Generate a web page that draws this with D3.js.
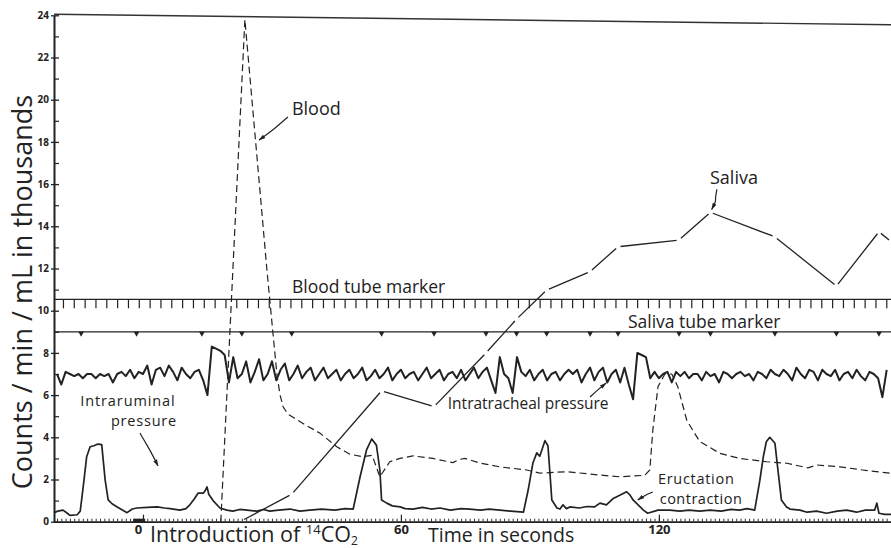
<!DOCTYPE html>
<html>
<head>
<meta charset="utf-8">
<script src="https://cdn.jsdelivr.net/npm/d3@7"></script>
<style>
  html, body { margin: 0; padding: 0; background: #fff; }
  svg { display: block; }
  text { font-family: "Open Sans", "Noto Sans", sans-serif; fill: #222; }
</style>
</head>
<body>
<svg id="chart" width="891" height="548"></svg>
<script>
// ---- Axis ticks -------------------------------------------------------
const yTickValues = [0, 2, 4, 6, 8, 10, 12, 14, 16, 18, 20, 22, 24];
const yTickLabels = ["0", "2", "4", "6", "8", "10", "12", "14", "16", "18", "20", "22", "24"];
const yMinorTicks = [1, 3, 5, 7, 9, 11, 13, 15, 17, 19, 21, 23];
const xTickValues = [0, 60, 120];
const xTickLabels = ["0", "60", "120"];

// ---- Blood 14C activity (thousand counts/min/mL), time in s ------------
const bloodTime = [18.1, 23.7, 28.8, 30.2, 31.2, 31.9, 32.6, 33.7, 34.9, 37.7, 41.2, 45.1, 48.1,
  51.2, 53.3, 55.1, 57.4, 59.8, 62.8, 67.4, 72.1, 73.5, 74.9, 78.4, 83.0, 89.3, 92.3, 98.6,
  106.3, 110.9, 116.7, 117.9, 118.6, 119.8, 121.4, 123.0, 124.4, 126.5, 129.5, 134.2, 138.8,
  145.1, 149.8, 154.7, 156.7, 162.1, 167.4, 174.0];
const bloodCounts = [0, 23.8, 12.0, 9.0, 6.9, 6.0, 5.45, 5.1, 4.95, 4.6, 4.19, 3.55, 3.2,
  3.08, 3.15, 2.13, 2.84, 3.0, 3.12, 3.0, 2.8, 2.95, 3.0, 2.78, 2.6, 2.45, 2.3, 2.37,
  2.21, 2.13, 2.2, 2.45, 4.35, 6.4, 7.0, 7.0, 6.4, 4.8, 3.8, 3.24, 3.0,
  2.84, 2.77, 2.55, 2.69, 2.6, 2.45, 2.29];

// ---- Saliva 14C activity, one value per saliva tube -------------------
const salivaTime = [23.0, 34.6, 55.5, 67.7, 79.8, 86.9, 93.9, 104.0, 110.5, 124.7, 132.0, 147.0, 161.3, 171.2, 174.0];
const salivaCounts = [0.05, 1.3, 6.2, 5.45, 8.0, 9.6, 10.98, 11.85, 13.03, 13.35, 14.66, 13.5, 11.17, 13.74, 13.27];

// ---- Tube change markers ---------------------------------------------
const salivaTubeTimes = [-14.4, -1.5, 13.7, 23.0, 34.6, 55.5, 67.7, 79.8, 86.9, 93.9, 104.0, 110.5, 124.7, 132.0, 147.0, 161.3, 171.2];
const bloodTubeStart = -18.5;
const bloodTubeStep = 2.52;

// ---- Intratracheal pressure, one reading per second from t = -20 s ------
const trachealStart = -20;
const trachealPressure = [
  7.0, 6.5, 7.1, 7.0, 6.9, 7.0, 6.8, 7.0, 7.0, 6.8,
  7.0, 6.9, 7.0, 6.6, 7.0, 7.1, 6.9, 7.2, 6.8, 7.1,
  7.0, 7.4, 6.5, 7.2, 7.3, 6.9, 7.4, 7.1, 6.7, 7.3,
  7.0, 6.8, 7.1, 7.2, 6.7, 6.0, 8.3, 8.2, 8.1, 7.9,
  6.6, 7.8, 6.8, 7.0, 7.6, 6.6, 7.1, 7.7, 6.7, 7.0,
  7.6, 6.7, 7.2, 7.5, 6.7, 7.0, 7.4, 6.8, 7.1, 7.3,
  6.7, 7.0, 7.3, 6.8, 7.0, 7.2, 6.7, 7.0, 7.2, 6.8,
  7.0, 7.3, 6.7, 6.9, 7.2, 6.8, 7.0, 7.3, 6.7, 7.0,
  7.2, 6.8, 7.0, 7.1, 6.7, 7.0, 7.3, 6.8, 7.0, 7.2,
  6.7, 7.0, 7.1, 6.8, 7.2, 6.7, 7.0, 7.3, 6.8, 7.1,
  7.3, 6.7, 6.1, 7.8, 7.0, 6.8, 6.1, 7.8, 7.1, 6.9,
  7.2, 6.7, 7.0, 7.2, 6.7, 7.0, 7.1, 6.7, 7.0, 7.2,
  7.0, 7.2, 6.6, 7.0, 7.3, 6.7, 7.1, 7.3, 6.6,
  7.0, 7.2, 6.6, 7.3, 6.5, 5.8, 8.0, 7.9, 7.8, 6.8,
  7.1, 6.8, 7.0, 7.1, 6.6, 7.1, 6.9, 7.1, 6.8, 7.0,
  7.0, 6.7, 7.1, 6.9, 7.0, 6.6, 7.1, 7.0, 6.8, 7.0,
  7.1, 6.9, 7.0, 6.7, 7.1, 7.0, 6.8, 7.2, 7.0, 6.9,
  7.2, 7.0, 6.7, 7.3, 7.0, 6.8, 7.2, 7.1, 6.7, 7.2,
  7.0, 6.9, 7.2, 6.7, 7.0, 7.1, 6.8, 7.2, 6.9, 6.7,
  7.1, 7.0, 6.8, 5.9, 7.2
];

// ---- Intraruminal pressure ------------------------------------------
const ruminalTime = [-20.7, -19.8, -18.6, -17.6, -17.0, -15.3, -14.6, -13.9, -13.1, -12.3, -11.4, -10.5,
  -9.6, -8.8, -8.1, -7.2, -6.0, -4.8, -3.7, -2.5, -1.4, 1.0, 3.3, 5.0, 6.3, 8.6, 10.0, 10.9, 12.0,
  12.8, 14.0, 14.4, 14.9, 15.3, 16.3, 17.9, 19.5, 20.9, 22.5, 24.2, 26.5, 28.0, 29.5, 31.5, 34.2,
  36.5, 38.8, 41.5, 44.7, 47.0, 48.9, 50.5, 52.0, 53.2, 54.3, 55.1, 55.5, 56.7, 58.0, 59.8, 61.0,
  62.8, 65.0, 67.0, 69.1, 71.5, 74.0, 76.0, 78.5, 80.5, 83.0, 85.5, 88.5, 89.6, 90.7, 91.6, 92.3,
  93.5, 94.2, 94.7, 95.1, 96.3, 97.0, 97.7, 98.5, 99.3, 101.5, 103.3, 105.0, 106.3, 107.8, 109.4,
  110.9, 112.5, 113.3, 114.0, 116.4, 117.4, 119.8, 122.5, 124.9, 127.0, 129.5, 131.9, 134.5,
  136.8, 138.8, 140.5, 142.3, 143.5, 144.3, 145.0, 145.8, 147.0, 147.7, 148.5, 149.7, 150.5,
  152.8, 154.5, 156.7, 159.0, 161.5, 163.7, 166.0, 168.0, 170.2, 170.7, 171.2, 172.5, 174.0];
const ruminalPressure = [0.43, 0.5, 0.55, 0.4, 0.3, 0.33, 0.5, 1.66, 3.08, 3.55, 3.6, 3.68,
  3.65, 1.97, 1.03, 0.85, 0.7, 0.55, 0.43, 0.6, 0.65, 0.68, 0.7, 0.65, 0.62, 0.55, 0.62, 0.8, 1.1,
  1.35, 1.35, 1.45, 1.65, 1.3, 1.0, 0.65, 0.55, 0.5, 0.58, 0.55, 0.5, 0.58, 0.5, 0.55, 0.6,
  0.5, 0.55, 0.6, 0.55, 0.62, 0.6, 2.13, 3.4, 3.92, 3.63, 2.45, 1.03, 0.88, 0.75, 0.7, 0.62,
  0.6, 0.68, 0.6, 0.65, 0.55, 0.62, 0.6, 0.55, 0.6, 0.55, 0.5, 0.45, 1.5, 2.78, 3.26, 3.1,
  3.84, 3.6, 2.2, 1.03, 0.65, 0.6, 0.8, 0.62, 0.7, 0.65, 0.72, 0.7, 0.88, 0.8, 1.1,
  1.25, 1.42, 1.26, 1.03, 0.55, 0.4, 0.55, 0.55, 0.5, 0.55, 0.5, 0.55, 0.5,
  0.58, 0.55, 0.62, 0.55, 1.97, 3.08, 3.79, 4.0, 3.72, 2.45, 1.03, 0.7, 0.6,
  0.55, 0.45, 0.5, 0.4, 0.5, 0.55, 0.45, 0.55, 0.55, 0.88, 0.4, 0.35, 0.35];

// ---- Scales ----------------------------------------------------------
const x = d3.scaleLinear().domain([-20.7, 174]).range([54, 891]);
const y = d3.scaleLinear().domain([0, 24]).range([521.7, 15.3]);
const INK = "#222";

const svg = d3.select("#chart");

svg.append("defs").append("marker")
  .attr("id", "head")
  .attr("viewBox", "0 0 10 10")
  .attr("refX", 9).attr("refY", 5)
  .attr("markerWidth", 7).attr("markerHeight", 7)
  .attr("markerUnits", "userSpaceOnUse")
  .attr("orient", "auto")
  .append("path").attr("d", "M0,2 L10,5 L0,8 Z").attr("fill", INK);

// top rule of the recording frame
svg.append("line")
  .attr("x1", x(-20.7)).attr("y1", y(24.05))
  .attr("x2", x(174)).attr("y2", y(23.55))
  .attr("stroke", "#333").attr("stroke-width", 1.4);

// ---- Y axis ----------------------------------------------------------
const gy = svg.append("g")
  .attr("transform", `translate(${x(-20.7)},0)`)
  .call(d3.axisLeft(y).tickValues(yTickValues)
    .tickFormat((d, i) => yTickLabels[i])
    .tickSizeInner(-5).tickSizeOuter(0).tickPadding(5));
gy.select(".domain").attr("stroke", INK).attr("stroke-width", 2);
gy.selectAll(".tick line").attr("stroke", INK).attr("stroke-width", 1.3);
gy.selectAll(".tick").append("line")
  .attr("x1", -3).attr("x2", 0).attr("stroke", INK).attr("stroke-width", 1.3);
gy.selectAll(".tick text")
  .attr("font-family", "DejaVu Sans").attr("font-weight", "bold")
  .attr("font-size", 10).attr("fill", INK);

svg.append("g")
  .attr("transform", `translate(${x(-20.7)},0)`)
  .call(d3.axisLeft(y).tickValues(yMinorTicks).tickSize(-5).tickFormat(""))
  .call(g => g.select(".domain").remove())
  .selectAll(".tick line").attr("stroke", INK).attr("stroke-width", 1.2);

// ---- X axis: one-second time marks, labelled every minute ----------------
const gxMinor = svg.append("g")
  .attr("transform", `translate(0,${y(0)})`)
  .call(d3.axisBottom(x).tickValues(d3.range(-20, 174, 1))
    .tickSizeInner(-3).tickSizeOuter(0).tickFormat(""));
gxMinor.select(".domain").attr("stroke", INK).attr("stroke-width", 1.8);
gxMinor.selectAll(".tick line").attr("stroke", "#333").attr("stroke-width", 1);

const gx = svg.append("g")
  .attr("transform", `translate(0,${y(0)})`)
  .call(d3.axisBottom(x).tickValues(xTickValues)
    .tickFormat((d, i) => xTickLabels[i])
    .tickSizeInner(-7).tickSizeOuter(0).tickPadding(3));
gx.select(".domain").remove();
gx.selectAll(".tick line").attr("stroke", INK).attr("stroke-width", 1.2);
gx.selectAll(".tick text")
  .attr("font-family", "DejaVu Sans").attr("font-weight", "bold")
  .attr("font-size", 13).attr("fill", INK)
  .attr("dx", d => d === 0 ? -5 : 0);

// 14CO2 introduction bar on the time base
svg.append("rect")
  .attr("x", x(-2.3)).attr("width", x(0.5) - x(-2.3))
  .attr("y", y(0) - 3).attr("height", 4)
  .attr("fill", INK);

// ---- Blood tube marker --------------------------------------------------
const bloodTubeTimes = d3.range(bloodTubeStart, 174, bloodTubeStep);
const bloodMarkY = y(10.54);
svg.append("line")
  .attr("x1", x(-20.7)).attr("x2", x(174))
  .attr("y1", bloodMarkY).attr("y2", bloodMarkY)
  .attr("stroke", INK).attr("stroke-width", 1.3);
svg.append("g").selectAll("line").data(bloodTubeTimes).join("line")
  .attr("x1", d => x(d)).attr("x2", d => x(d))
  .attr("y1", bloodMarkY).attr("y2", bloodMarkY + 9)
  .attr("stroke", INK).attr("stroke-width", 1.2);

// ---- Saliva tube marker ------------------------------------------------
const salivaMarkY = y(9.0);
svg.append("line")
  .attr("x1", x(-20.7)).attr("x2", x(174))
  .attr("y1", salivaMarkY).attr("y2", salivaMarkY)
  .attr("stroke", INK).attr("stroke-width", 1.3);
svg.append("g").selectAll("path").data(salivaTubeTimes).join("path")
  .attr("d", d => `M${x(d) - 2.8},${salivaMarkY} L${x(d) + 2.8},${salivaMarkY} L${x(d)},${salivaMarkY + 5} Z`)
  .attr("fill", INK);

// ---- Intraruminal pressure --------------------------------------------
const ruminal = ruminalTime.map((t, i) => [t, ruminalPressure[i]]);
svg.append("path")
  .datum(ruminal)
  .attr("d", d3.line().x(d => x(d[0])).y(d => y(d[1])))
  .attr("fill", "none").attr("stroke", INK)
  .attr("stroke-width", 1.7).attr("stroke-linejoin", "round");

// ---- Intratracheal pressure -------------------------------------------
const tracheal = trachealPressure.map((v, i) => [trachealStart + i, v]);
svg.append("path")
  .datum(tracheal)
  .attr("d", d3.line().x(d => x(d[0])).y(d => y(d[1])))
  .attr("fill", "none").attr("stroke", INK)
  .attr("stroke-width", 2).attr("stroke-linejoin", "round");

// ---- Blood activity (dashed) ------------------------------------------
const blood = bloodTime.map((t, i) => [t, bloodCounts[i]]);
svg.append("path")
  .datum(blood)
  .attr("d", d3.line().x(d => x(d[0])).y(d => y(d[1])))
  .attr("fill", "none").attr("stroke", INK)
  .attr("stroke-width", 1.2).attr("stroke-dasharray", "7,4");

// ---- Saliva activity: one stroke per tube interval, open at the joints ----
const salivaPts = salivaTime.map((t, i) => [x(t), y(salivaCounts[i])]);
const gap = 2.5;
const salivaSegs = d3.pairs(salivaPts).map(([a, b]) => {
  const dx = b[0] - a[0], dy = b[1] - a[1];
  const len = Math.hypot(dx, dy);
  const ux = dx / len, uy = dy / len;
  return [a[0] + ux * gap, a[1] + uy * gap, b[0] - ux * gap, b[1] - uy * gap];
});
svg.append("g").selectAll("line").data(salivaSegs).join("line")
  .attr("x1", d => d[0]).attr("y1", d => d[1])
  .attr("x2", d => d[2]).attr("y2", d => d[3])
  .attr("stroke", INK).attr("stroke-width", 1.3);

// ---- Labels and pointer arrows -----------------------------------------
function label(t, v, str, size, anchor, spacing) {
  return svg.append("text")
    .attr("x", x(t)).attr("y", y(v))
    .attr("font-size", size)
    .attr("letter-spacing", spacing || 0)
    .attr("text-anchor", anchor || "start")
    .text(str);
}
const curvy = d3.line().x(d => x(d[0])).y(d => y(d[1])).curve(d3.curveBasis);
function pointer(pts) {
  svg.append("path")
    .attr("d", curvy(pts))
    .attr("fill", "none").attr("stroke", INK).attr("stroke-width", 1.2)
    .attr("marker-end", "url(#head)");
}

label(34.65, 19.27, "Blood", 18);
pointer([[33.7, 19.18], [30.5, 18.6], [27.0, 18.09]]);

label(131.9, 16.0, "Saliva", 18);
pointer([[133.5, 15.75], [133.1, 15.3], [133.3, 15.2], [132.3, 14.8]]);

label(34.65, 10.84, "Blood tube marker", 17.5);
label(112.8, 9.18, "Saliva tube marker", 17.5);

label(70.9, 5.34, "Intratracheal pressure", 15.5);
pointer([[104.0, 5.91], [105.8, 6.25], [107.7, 6.57]]);

label(-3.5, 5.49, "Intraruminal", 14.5, "middle", 0.9);
label(0.23, 4.54, "pressure", 14.5, "middle", 0.8);
pointer([[-0.7, 4.2], [1.0, 3.6], [1.6, 3.4], [3.5, 2.65]]);

label(119.8, 1.81, "Eructation", 14.5, "start", 0.7);
label(120.2, 0.86, "contraction", 14.5, "start", 0.5);
pointer([[118.6, 1.41], [116.8, 1.25], [115.1, 1.03]]);

// time-base captions
const intro = svg.append("text")
  .attr("x", 150).attr("y", 542)
  .attr("font-size", 21.5);
intro.append("tspan").text("Introduction of ");
intro.append("tspan").attr("font-size", 13).attr("dy", -8).text("14");
intro.append("tspan").attr("dy", 8).text("CO");
intro.append("tspan").attr("font-size", 12).attr("dy", 2.5).text("2");

svg.append("text")
  .attr("x", 428).attr("y", 542)
  .attr("font-size", 19.5)
  .text("Time in seconds");

// vertical axis title
svg.append("text")
  .attr("transform", "translate(32,292) rotate(-90)")
  .attr("text-anchor", "middle")
  .attr("font-size", 27)
  .text("Counts / min / mL in thousands");
</script>
</body>
</html>
